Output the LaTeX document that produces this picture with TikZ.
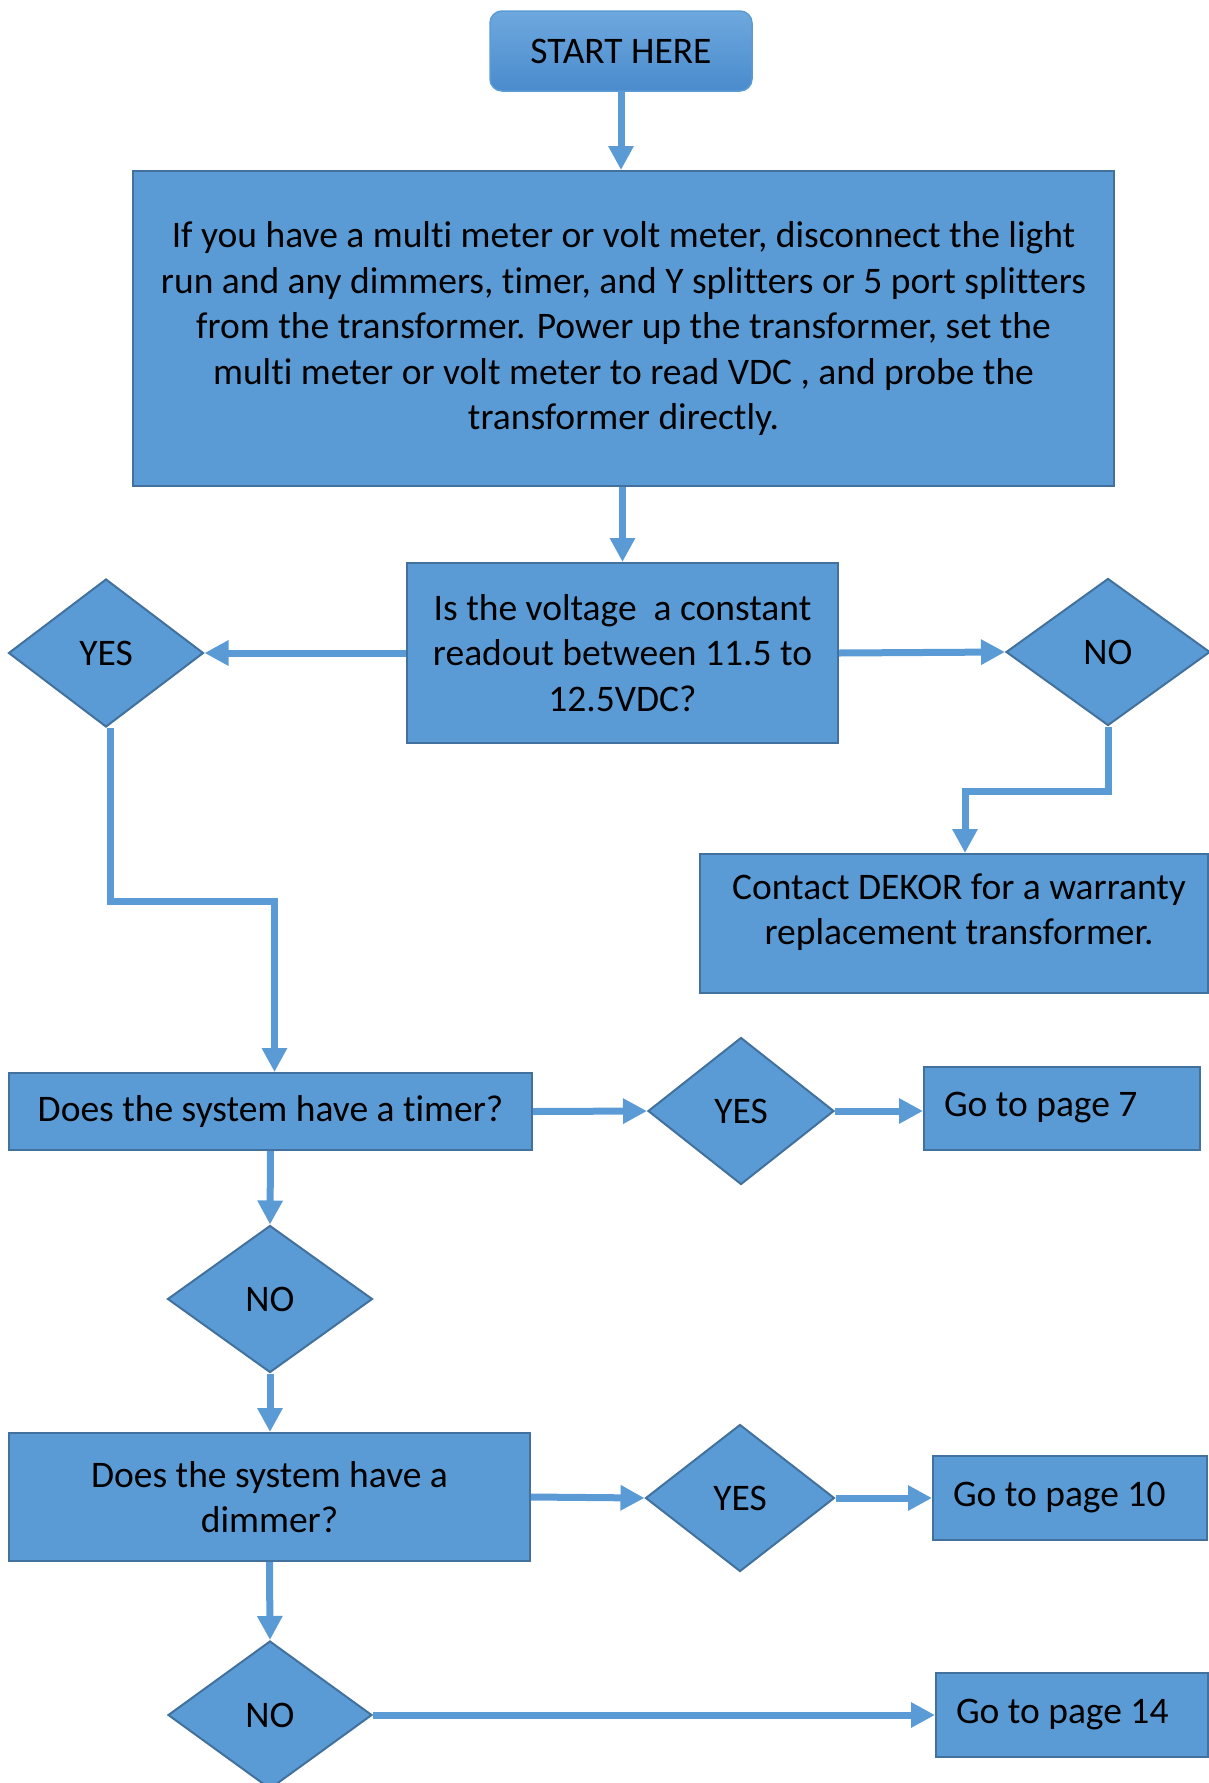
\documentclass[tikz,border=0pt]{standalone}
\usepackage{fontspec}
\setmainfont[Ligatures=NoCommon]{Carlito}
\usetikzlibrary{shapes.geometric,arrows.meta}
\definecolor{fillblue}{HTML}{5B9BD5}
\definecolor{edgeblue}{HTML}{41719C}
\definecolor{topblue}{HTML}{6EA8DE}
\definecolor{botblue}{HTML}{4A8BCD}
\begin{document}
\begin{tikzpicture}[x=1pt,y=-1pt,
  txt/.style={font=\fontsize{37.5}{45.5}\selectfont, text=black},
  box/.style={txt, rectangle, fill=fillblue, draw=edgeblue, line width=2pt, inner sep=0pt, align=center},
  dia/.style={txt, diamond, fill=fillblue, draw=edgeblue, line width=2pt, inner sep=0pt},
  startbox/.style={txt, rectangle, rounded corners=12pt, top color=topblue, bottom color=botblue, draw=fillblue, line width=1.5pt, inner sep=0pt},
  arr/.style={draw=fillblue, line width=7pt, -{Triangle[length=24pt,width=24pt]}}
]
\useasboundingbox (0,0) rectangle (1209,1783);

\node[startbox, minimum width=262pt, minimum height=80pt] (start) at (621,51) {START HERE};

\node[box, minimum width=981pt, minimum height=315pt] (big) at (623.5,328.5)
  {If you have a multi meter or volt meter, disconnect the light\\
   run and any dimmers, timer, and Y splitters or 5 port splitters\\
   from the transformer. Power up the transformer, set the\\
   multi meter or volt meter to read VDC , and probe the\\
   transformer directly.};

\node[box, minimum width=431pt, minimum height=180pt] (q) at (622.5,653)
  {Is the voltage \ a constant\\ readout between 11.5 to\\ 12.5VDC?};

\node[dia, minimum width=195pt, minimum height=148pt] (yes1) at (106,653) {YES};
\node[dia, minimum width=204pt, minimum height=147pt] (no1) at (1108,652) {NO};

\node[box, minimum width=508pt, minimum height=139pt] (contact) at (954,923.5) {};
\node[txt, align=center] (contacttext) at (959,912)
  {Contact DEKOR for a warranty\\ replacement transformer.};

\node[box, minimum width=523pt, minimum height=77pt] (timer) at (270.5,1111.5)
  {Does the system have a timer?};
\node[dia, minimum width=186pt, minimum height=147pt] (yes2) at (741,1111) {YES};
\node[box, minimum width=276pt, minimum height=83pt, text width=236pt, align=flush left] (go7) at (1062,1108)
  {Go to page 7};

\node[dia, minimum width=205pt, minimum height=147pt] (no2) at (270,1299) {NO};

\node[box, minimum width=521pt, minimum height=128pt] (dimmer) at (269.5,1497)
  {Does the system have a\\ dimmer?};
\node[dia, minimum width=189pt, minimum height=147pt] (yes3) at (740,1498) {YES};
\node[box, minimum width=274pt, minimum height=84pt, text width=234pt, align=flush left] (go10) at (1070,1498)
  {Go to page 10};

\node[dia, minimum width=204pt, minimum height=148pt] (no3) at (270,1715) {NO};
\node[box, minimum width=272pt, minimum height=84pt, text width=232pt, align=flush left] (go14) at (1072,1715)
  {Go to page 14};

\draw[arr] (start.south) -- (start.south |- big.north);
\draw[arr] (big.south -| q.north) -- (q.north);
\draw[arr] (q.west) -- (yes1.east);
\draw[arr] (q.east) -- (no1.west);
\draw[arr] (no1.south) -- ++(0,65) -| ([xshift=11pt]contact.north);
\draw[arr] ([xshift=4pt]yes1.south) -- ++(0,173) -| ([xshift=4pt]timer.north);
\draw[arr] (timer.east) -- (yes2.west);
\draw[arr] (yes2.east) -- (go7.west |- yes2.east);
\draw[arr] (timer.south) -- (no2.north);
\draw[arr] (no2.south) -- (dimmer.north -| no2.south);
\draw[arr] (dimmer.east) -- (yes3.west);
\draw[arr] (yes3.east) -- (go10.west);
\draw[arr] (dimmer.south) -- (no3.north);
\draw[arr] (no3.east) -- (go14.west);
\end{tikzpicture}
\end{document}
